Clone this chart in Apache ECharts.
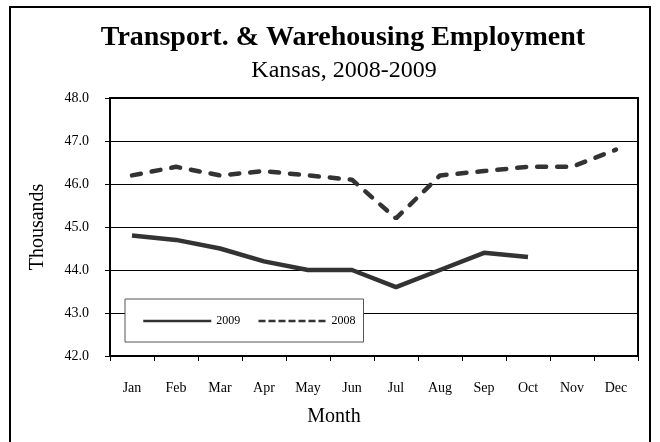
<!DOCTYPE html>
<html>
<head>
<meta charset="utf-8">
<script src="https://cdn.jsdelivr.net/npm/echarts@6/dist/echarts.min.js"></script>
<style>
  html, body { margin: 0; padding: 0; background: #fff; }
  #chart { width: 660px; height: 442px; }
</style>
</head>
<body>
<div id="chart"></div>
<script>
// data
const months = ['Jan', 'Feb', 'Mar', 'Apr', 'May', 'Jun', 'Jul', 'Aug', 'Sep', 'Oct', 'Nov', 'Dec'];
const values2009 = [44.8, 44.7, 44.5, 44.2, 44.0, 44.0, 43.6, 44.0, 44.4, 44.3];
const values2008 = [46.2, 46.4, 46.2, 46.3, 46.2, 46.1, 45.2, 46.2, 46.3, 46.4, 46.4, 46.8];

const serif = '"Liberation Serif", "Times New Roman", serif';

const chart = echarts.init(document.getElementById('chart'));

chart.setOption({
  animation: false,
  backgroundColor: '#fff',
  textStyle: { fontFamily: serif, color: '#000' },
  grid: {
    left: 110,
    right: 22,
    top: 98,
    bottom: 86,
    show: true,
    borderColor: '#000',
    borderWidth: 2,
    backgroundColor: 'transparent'
  },
  legend: {
    left: 125,
    top: 299,
    orient: 'horizontal',
    backgroundColor: '#fff',
    borderColor: '#555',
    borderWidth: 1,
    padding: [16, 8, 15, 17],
    itemWidth: 68,
    itemHeight: 12,
    itemGap: 17,
    lineStyle: { width: 2.5 },
    itemStyle: { color: 'transparent', borderWidth: 0 },
    textStyle: { fontFamily: serif, fontSize: 12, color: '#000' },
    data: [
      { name: '2009' },
      { name: '2008', lineStyle: { type: [7, 3], cap: 'butt' } }
    ]
  },
  xAxis: {
    type: 'category',
    data: months,
    boundaryGap: true,
    axisLine: { lineStyle: { color: '#000', width: 2 } },
    axisTick: { show: true, length: 5, lineStyle: { color: '#000' } },
    axisLabel: { margin: 25, fontSize: 14, color: '#000', fontFamily: serif }
  },
  yAxis: {
    type: 'value',
    min: 42,
    max: 48,
    interval: 1,
    axisLine: { show: true, lineStyle: { color: '#000', width: 2 } },
    axisTick: { show: true, length: 5, lineStyle: { color: '#000' } },
    axisLabel: {
      margin: 21,
      fontSize: 14,
      color: '#000',
      fontFamily: serif,
      formatter: v => v.toFixed(1)
    },
    splitLine: { show: true, lineStyle: { color: '#000', width: 1 } }
  },
  series: [
    {
      name: '2009',
      type: 'line',
      data: values2009,
      symbol: 'none',
      lineStyle: { color: '#333', width: 4.5 },
      itemStyle: { color: '#333' }
    },
    {
      name: '2008',
      type: 'line',
      data: values2008,
      symbol: 'none',
      lineStyle: { color: '#333', width: 4.5, type: [9, 11], cap: 'round' },
      itemStyle: { color: '#333' }
    }
  ],
  graphic: [
    {
      type: 'rect',
      shape: { x: 10, y: 7, width: 640, height: 450 },
      style: { fill: 'none', stroke: '#000', lineWidth: 2 },
      silent: true
    },
    {
      type: 'text',
      style: {
        text: 'Transport. & Warehousing Employment',
        x: 343,
        y: 38,
        font: 'bold 28px ' + serif,
        fill: '#000',
        align: 'center',
        verticalAlign: 'middle'
      }
    },
    {
      type: 'text',
      style: {
        text: 'Kansas, 2008-2009',
        x: 344,
        y: 71,
        font: '24px ' + serif,
        fill: '#000',
        align: 'center',
        verticalAlign: 'middle'
      }
    },
    {
      type: 'text',
      rotation: Math.PI / 2,
      x: 38,
      y: 227,
      style: {
        text: 'Thousands',
        font: '20px ' + serif,
        fill: '#000',
        align: 'center',
        verticalAlign: 'middle'
      }
    },
    {
      type: 'text',
      style: {
        text: 'Month',
        x: 334,
        y: 417,
        font: '20px ' + serif,
        fill: '#000',
        align: 'center',
        verticalAlign: 'middle'
      }
    }
  ]
});
</script>
</body>
</html>
